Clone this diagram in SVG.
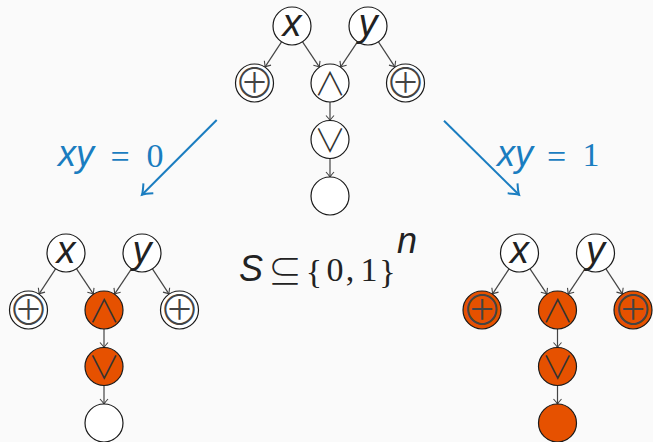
<svg xmlns="http://www.w3.org/2000/svg" width="653" height="442" viewBox="0 0 653 442">
<defs>
<style>
.n{fill:#fff;stroke:#1a1a1a;stroke-width:1.2}
.o{fill:#e65100}
.e{stroke:#444;stroke-width:1.2;fill:none;marker-end:url(#ah)}
.var{font-family:"Liberation Sans",Arial,sans-serif;font-style:italic;font-size:38px;fill:#222;text-anchor:middle}
.op{font-family:"Noto Sans CJK JP","DejaVu Sans",sans-serif;font-weight:300;font-size:41px;fill:#444;text-anchor:middle}
.lg{font-family:"Noto Sans CJK JP","DejaVu Sans",sans-serif;font-weight:300;font-size:32px;fill:#333;text-anchor:middle}
.bl{fill:#1a7dc0}
.it{font-family:"Liberation Sans",Arial,sans-serif;font-style:italic;font-size:36px}
.sf{font-family:"Liberation Serif","Times New Roman",serif;font-size:34px}
.ds{font-family:"Noto Sans CJK JP","DejaVu Serif",serif;font-weight:300;font-size:34px}
</style>
<marker id="ah" markerUnits="userSpaceOnUse" markerWidth="12" markerHeight="12" viewBox="-6 -6 12 12" refX="0" refY="0" orient="auto" overflow="visible">
<path d="M -5 -4 Q -1.5 -0.8 0 0 Q -1.5 0.8 -5 4" fill="none" stroke="#444" stroke-width="1.1"/>
</marker>
<marker id="bh" markerUnits="userSpaceOnUse" markerWidth="20" markerHeight="20" viewBox="-10 -10 20 20" refX="0" refY="0" orient="auto" overflow="visible">
<path d="M -9 -7 Q -2.5 -1.2 0 0 Q -2.5 1.2 -9 7" fill="none" stroke="#1a7dc0" stroke-width="2"/>
</marker>
</defs>
<rect width="653" height="442" fill="#fafafa"/>

<!-- top graph -->
<g transform="translate(330,26)">
<g id="edges-top">
<line class="e" x1="-48.44" y1="15.87" x2="-65.06" y2="41.13"/>
<line class="e" x1="-27.46" y1="15.81" x2="-10.54" y2="41.19"/>
<line class="e" x1="27.46" y1="15.81" x2="10.54" y2="41.19"/>
<line class="e" x1="48.44" y1="15.87" x2="65.06" y2="41.13"/>
<line class="e" x1="0" y1="76" x2="0" y2="94.5"/>
<line class="e" x1="0" y1="132.5" x2="0" y2="151"/>
</g>
<g id="top-x"><circle class="n" cx="-38" cy="0" r="19"/><text class="var" x="-38" y="10">x</text></g>
<g id="top-y"><circle class="n" cx="38" cy="0" r="19"/><text class="var" x="38" y="10">y</text></g>
<g id="top-xor1"><circle class="n" cx="-75.5" cy="57" r="19"/><text class="op" x="-75.5" y="72.3">⊕</text></g>
<g id="top-and"><circle class="n" cx="0" cy="57" r="19"/><text class="lg" x="0" y="69">∧</text></g>
<g id="top-xor2"><circle class="n" cx="75.5" cy="57" r="19"/><text class="op" x="75.5" y="72.3">⊕</text></g>
<g id="top-or"><circle class="n" cx="0" cy="113.5" r="19"/><text class="lg" x="0" y="125.5">∨</text></g>
<g id="top-out"><circle class="n" cx="0" cy="170" r="19"/></g>
</g>

<!-- bottom-left graph -->
<g transform="translate(104,253)">
<g id="edges-left">
<line class="e" x1="-48.44" y1="15.87" x2="-65.06" y2="41.13"/>
<line class="e" x1="-27.46" y1="15.81" x2="-10.54" y2="41.19"/>
<line class="e" x1="27.46" y1="15.81" x2="10.54" y2="41.19"/>
<line class="e" x1="48.44" y1="15.87" x2="65.06" y2="41.13"/>
<line class="e" x1="0" y1="76" x2="0" y2="94.5"/>
<line class="e" x1="0" y1="132.5" x2="0" y2="151"/>
</g>
<g id="left-x"><circle class="n" cx="-38" cy="0" r="19"/><text class="var" x="-38" y="10">x</text></g>
<g id="left-y"><circle class="n" cx="38" cy="0" r="19"/><text class="var" x="38" y="10">y</text></g>
<g id="left-xor1"><circle class="n" cx="-75.5" cy="57" r="19"/><text class="op" x="-75.5" y="72.3">⊕</text></g>
<g id="left-and"><circle class="n o" cx="0" cy="57" r="19"/><text class="lg" x="0" y="69">∧</text></g>
<g id="left-xor2"><circle class="n" cx="75.5" cy="57" r="19"/><text class="op" x="75.5" y="72.3">⊕</text></g>
<g id="left-or"><circle class="n o" cx="0" cy="113.5" r="19"/><text class="lg" x="0" y="125.5">∨</text></g>
<g id="left-out"><circle class="n" cx="0" cy="170" r="19"/></g>
</g>

<!-- bottom-right graph -->
<g transform="translate(557.5,253)">
<g id="edges-right">
<line class="e" x1="-48.44" y1="15.87" x2="-65.06" y2="41.13"/>
<line class="e" x1="-27.46" y1="15.81" x2="-10.54" y2="41.19"/>
<line class="e" x1="27.46" y1="15.81" x2="10.54" y2="41.19"/>
<line class="e" x1="48.44" y1="15.87" x2="65.06" y2="41.13"/>
<line class="e" x1="0" y1="76" x2="0" y2="94.5"/>
<line class="e" x1="0" y1="132.5" x2="0" y2="151"/>
</g>
<g id="right-x"><circle class="n" cx="-38" cy="0" r="19"/><text class="var" x="-38" y="10">x</text></g>
<g id="right-y"><circle class="n" cx="38" cy="0" r="19"/><text class="var" x="38" y="10">y</text></g>
<g id="right-xor1"><circle class="n o" cx="-75.5" cy="57" r="19"/><text class="op" x="-75.5" y="72.3">⊕</text></g>
<g id="right-and"><circle class="n o" cx="0" cy="57" r="19"/><text class="lg" x="0" y="69">∧</text></g>
<g id="right-xor2"><circle class="n o" cx="75.5" cy="57" r="19"/><text class="op" x="75.5" y="72.3">⊕</text></g>
<g id="right-or"><circle class="n o" cx="0" cy="113.5" r="19"/><text class="lg" x="0" y="125.5">∨</text></g>
<g id="right-out"><circle class="n o" cx="0" cy="170" r="19"/></g>
</g>

<!-- blue transitions -->
<g id="transitions">
<line x1="216.7" y1="120" x2="142" y2="194.7" stroke="#1a7dc0" stroke-width="2" marker-end="url(#bh)"/>
<line x1="444" y1="120.7" x2="519" y2="194.7" stroke="#1a7dc0" stroke-width="2" marker-end="url(#bh)"/>
</g>
<g id="label-left">
<text class="it bl" x="76" y="166" text-anchor="middle">xy</text>
<text class="sf bl" x="120" y="168" text-anchor="middle" font-size="52">=</text>
<text class="sf bl" x="155" y="167" text-anchor="middle">0</text>
</g>
<g id="label-right">
<text class="it bl" x="515" y="166" text-anchor="middle">xy</text>
<text class="sf bl" x="556.5" y="168" text-anchor="middle" font-size="52">=</text>
<text class="sf bl" x="591" y="166" text-anchor="middle">1</text>
</g>
<g id="label-set" fill="#222">
<text class="it" x="251" y="281" text-anchor="middle">S</text>
<text class="ds" x="285" y="284" text-anchor="middle">⊆</text>
<text class="sf" x="314" y="283" text-anchor="middle" font-size="42">{</text>
<text class="sf" x="335" y="281" text-anchor="middle">0</text>
<text class="sf" x="350" y="281" text-anchor="middle">,</text>
<text class="sf" x="369" y="281" text-anchor="middle">1</text>
<text class="sf" x="387.5" y="283" text-anchor="middle" font-size="42">}</text>
<text class="it" x="407" y="253" text-anchor="middle" font-size="26">n</text>
</g>
</svg>
